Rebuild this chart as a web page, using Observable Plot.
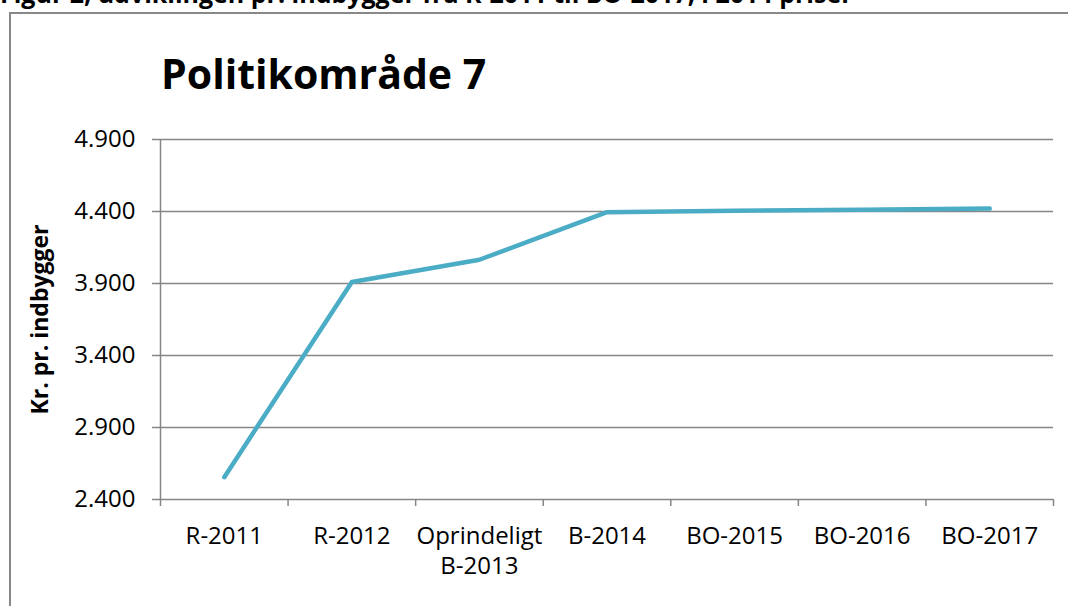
<!DOCTYPE html>
<html>
<head>
<meta charset="utf-8">
<script src="https://cdn.jsdelivr.net/npm/d3@7"></script>
<script src="https://cdn.jsdelivr.net/npm/@observablehq/plot@0.6"></script>
<style>
  html, body { margin: 0; padding: 0; background: #fff; }
  #wrap { position: relative; width: 1068px; height: 606px; overflow: hidden; font-family: "Open Sans", sans-serif; }
  #caption { position: absolute; left: 0; top: -19px; font-weight: bold; font-size: 25px; line-height: 1; white-space: nowrap; color: #000; }
  #frame { position: absolute; left: 9px; top: 12px; width: 1200px; height: 800px; border: 2px solid #888; box-sizing: border-box; }
  #title { position: absolute; left: 161px; top: 53px; font-weight: bold; font-size: 41px; line-height: 1; color: #000; white-space: nowrap; }
  #chart { position: absolute; left: 0; top: 0; }
</style>
</head>
<body>
<div id="wrap">
  <div id="caption">Figur 2, udviklingen pr. indbygger fra R-2011 til BO-2017, i 2014 priser</div>
  <div id="frame"></div>
  <div id="title">Politikområde 7</div>
  <div id="chart"></div>
</div>
<script>
const categories = ["R-2011", "R-2012", "Oprindeligt\nB-2013", "B-2014", "BO-2015", "BO-2016", "BO-2017"];
const values = [2555, 3910, 4065, 4395, 4405, 4412, 4420];
const yTicks = [2400, 2900, 3400, 3900, 4400, 4900];
const yLabel = "Kr. pr. indbygger";

const data = categories.map((c, i) => ({i, c, v: values[i]}));
const fmt = d => d3.format(",")(d).replace(/,/g, ".");
const edges = d3.range(categories.length + 1).map(k => k - 0.5);
const grey = "#868686";

const chart = Plot.plot({
  width: 1068,
  height: 606,
  marginLeft: 160,
  marginRight: 15,
  marginTop: 139,
  marginBottom: 107,
  style: {fontFamily: "Open Sans, sans-serif", background: "transparent", color: "#000"},
  x: {domain: [-0.5, categories.length - 0.5]},
  y: {domain: [2400, 4900]},
  marks: [
    Plot.ruleY(yTicks, {stroke: grey, strokeWidth: 1.5}),
    Plot.ruleX([-0.5], {stroke: grey, strokeWidth: 1.5}),
    Plot.axisY({ticks: yTicks, tickFormat: fmt, tickSize: 8, tickPadding: 17, fontSize: 24, stroke: grey, strokeWidth: 1.5, strokeOpacity: 1, label: null}),
    Plot.axisX({ticks: edges, tickFormat: () => "", tickSize: 7, stroke: grey, strokeWidth: 1.5, strokeOpacity: 1, label: null}),
    Plot.text(data, {x: "i", y: () => 2400, text: "c", dy: 23, lineAnchor: "top", fontSize: 24, lineHeight: 1.25, fill: "#000"}),
    Plot.text([yLabel], {frameAnchor: "left", dx: -120, rotate: -90, text: d => d, fontSize: 23, fontWeight: "bold", fill: "#000", textAnchor: "middle"}),
    Plot.line(data, {x: "i", y: "v", stroke: "#4BACC6", strokeWidth: 4.5, strokeLinecap: "round", strokeLinejoin: "round"})
  ]
});
document.getElementById("chart").appendChild(chart);
</script>
</body>
</html>
